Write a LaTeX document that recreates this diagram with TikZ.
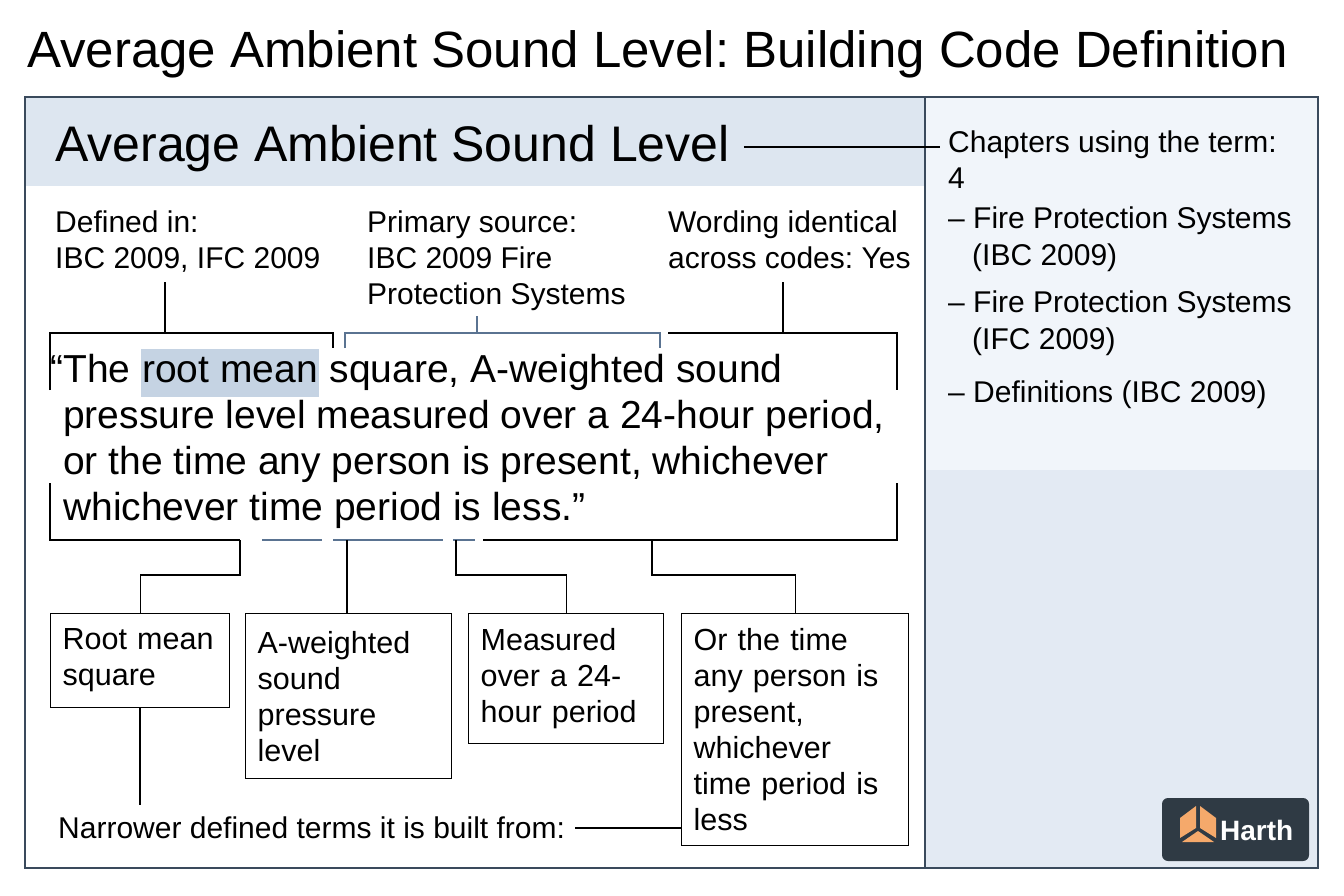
\documentclass[tikz,border=0pt]{standalone}
\usepackage{fontspec}
\setmainfont{Liberation Sans}
\usetikzlibrary{positioning}
\definecolor{frame}{HTML}{3A4A5C}
\definecolor{band}{HTML}{DDE6F0}
\definecolor{panel}{HTML}{F1F5FA}
\definecolor{panelb}{HTML}{E3EAF3}
\definecolor{hlblue}{HTML}{C5D3E3}
\definecolor{bline}{HTML}{5A7391}
\definecolor{logo}{HTML}{2F3A44}
\definecolor{cube}{HTML}{F5A96B}
\newcommand{\hlword}[1]{{\setlength{\fboxsep}{1pt}\colorbox{hlblue}{\strut #1}}}
\frenchspacing
\begin{document}
\begin{tikzpicture}[
    x=1pt, y=-1pt,
    lbl/.style={anchor=north west, inner sep=0, font=\fontsize{30}{36}\selectfont, align=left},
    qline/.style={anchor=base west, inner sep=0, font=\fontsize{39}{46}\selectfont},
    box/.style={draw=black, line width=1.3pt, anchor=north west, inner xsep=12pt, inner ysep=10pt,
        font=\fontsize{30.5}{36}\selectfont, align=left},
    conn/.style={line width=1.3pt},
    bconn/.style={line width=1.3pt, draw=bline}]
\useasboundingbox (0,0) rectangle (1344,896);
\fill[white] (0,0) rectangle (1344,896);
% panels
\fill[panel] (925,97) rectangle (1318,470);
\fill[panelb] (925,470) rectangle (1318,868);
\fill[band] (25,97) rectangle (925,186);
\draw[frame, line width=1.5pt] (25,97) rectangle (1318,868);
\draw[frame, line width=1.2pt] (925,97) -- (925,868);
% titles
\node[anchor=base west, inner sep=0, font=\fontsize{51}{56}\selectfont] (title) at (27,68) {Average Ambient Sound Level: Building Code Definition};
\node[anchor=base west, inner sep=0, font=\fontsize{50}{56}\selectfont] (term) at (55,162) {Average Ambient Sound Level};
\node[lbl] (chapters) at (948,131) {Chapters using the term:\\4};
\coordinate (chl) at (940,147);
\draw[conn] (term.east |- chl) ++(14,0) -- (chl);
\node[lbl, font=\fontsize{30}{37}\selectfont] (ch1) at (948,207) {– Fire Protection Systems\\\hspace*{24pt}(IBC 2009)};
\node[lbl, font=\fontsize{30}{37}\selectfont] (ch2) at (948,291) {– Fire Protection Systems\\\hspace*{24pt}(IFC 2009)};
\node[lbl] (ch3) at (948,381) {– Definitions (IBC 2009)};
% top labels
\node[lbl] (defin) at (55,211) {Defined in:\\IBC 2009, IFC 2009};
\node[lbl] (source) at (367,211) {Primary source:\\IBC 2009 Fire\\Protection Systems};
\node[lbl] (wording) at (668,211) {Wording identical\\across codes: Yes};
% quote
\node[qline] (q1) at (50,382) {“The \hlword{root mean} square, A-weighted sound};
\node[qline] (q2) at (63,428) {pressure level measured over a 24-hour period,};
\node[qline] (q3) at (63,474) {or the time any person is present, whichever};
\node[qline] (q4) at (63,520) {whichever time period is less.”};
% upper brackets
\coordinate (a1) at (165,333);
\coordinate (a2) at (477,333);
\coordinate (a3) at (783,333);
\draw[conn] (165,282) -- (a1);
\draw[conn] (50,390) -- (50,333) -- (333,333) -- (333,348);
\draw[bconn] (345,348) -- (345,333) -- (660,333) -- (660,348);
\draw[bconn] (477,316) -- (a2);
\draw[conn] (783,282) -- (a3);
\draw[conn] (668,333) -- (897,333) -- (897,390);
% lower bracket
\draw[conn] (50,483) -- (50,540) -- (240,540);
\draw[bconn] (262,540) -- (322,540);
\draw[bconn] (333,540) -- (443,540);
\draw[bconn] (453,540) -- (475,540);
\draw[conn] (483,540) -- (897,540) -- (897,483);
% boxes
\node[box, text width=155pt, minimum height=94pt] (rms) at (50,613) {Root mean\\square};
\node[box, text width=182pt, minimum height=165pt] (aw) at (245,613) {A-weighted\\sound\\pressure\\level};
\node[box, text width=171pt, minimum height=130pt] (meas) at (468,613) {Measured\\over a 24-\\hour period};
\node[box, text width=203pt, minimum height=232pt] (orthe) at (681,613) {Or the time\\any person is\\present,\\whichever\\time period is\\less};
\draw[conn] (240,540) -- (240,575) -| (rms.north);
\draw[conn] (347,540) -- (347,613);
\draw[conn] (456,540) -- (456,575) -| (meas.north);
\draw[conn] (652,540) -- (652,575) -| (orthe.north);
% built from
\node[anchor=west, inner sep=0, font=\fontsize{30}{34}\selectfont] (built) at (58,828) {Narrower defined terms it is built from:};
\coordinate (bt) at (140,805);
\draw[conn] (rms.south -| bt) -- (bt);
\draw[conn] (built.east) ++(10,0) -- (orthe.west |- built.east);
% logo
\fill[logo, rounded corners=6pt] (1162,798) rectangle (1309,861);
\fill[cube] (1180,818) -- (1196,806) -- (1196,828) -- (1180,838) -- cycle;
\fill[cube] (1200,806) -- (1216,818) -- (1216,838) -- (1200,828) -- cycle;
\fill[cube] (1182,842) -- (1198,831) -- (1214,842) -- cycle;
\node[anchor=west, inner sep=0, text=white, font=\fontsize{28}{30}\selectfont\bfseries] (harth) at (1220,830) {Harth};
\end{tikzpicture}
\end{document}
